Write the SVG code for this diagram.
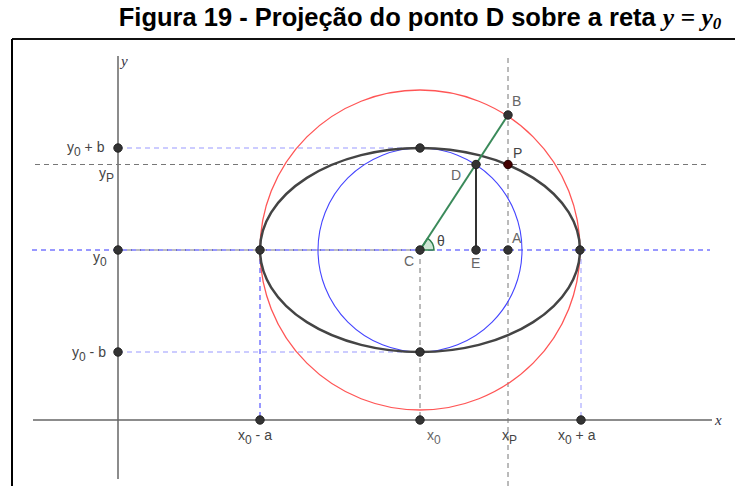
<svg xmlns="http://www.w3.org/2000/svg" width="735" height="486" viewBox="0 0 735 486">
<style>
.lbl{font-family:"Liberation Sans",Arial,sans-serif;font-size:14px;fill:#444}
.lt{fill:#666}
.sub{font-size:12px}
.ax{stroke:#666;stroke-width:1.5;fill:none}
.gd{stroke:#777;stroke-width:1;stroke-dasharray:5,4;fill:none}
.bd{stroke:#3333ff;stroke-width:1;stroke-dasharray:5,4;fill:none}
.lbd{stroke:#9999ff;stroke-width:1;stroke-dasharray:5,4;fill:none}
.pt{fill:#333;stroke:#222;stroke-width:1}
</style>
<rect width="735" height="486" fill="#fff"/>
<text x="420" y="26" text-anchor="middle" font-family="Liberation Sans,Arial,sans-serif" font-size="25.5" font-weight="bold" fill="#000">Figura 19 - Projeção do ponto D sobre a reta <tspan font-family="Liberation Serif,Times New Roman,serif" font-style="italic">y = y<tspan font-size="17" dy="3">0</tspan></tspan></text>
<line x1="12" y1="39" x2="735" y2="39" stroke="#111" stroke-width="2"/>
<line x1="12" y1="39" x2="12" y2="486" stroke="#000" stroke-width="2"/>
<g id="connectors">
<line class="ax" x1="118" y1="56" x2="118" y2="479"/>
<line class="ax" x1="33" y1="420" x2="712" y2="420"/>
<line class="gd" x1="35" y1="164.5" x2="707" y2="164.5"/>
<line class="gd" x1="508" y1="58" x2="508" y2="486"/>
<line class="gd" x1="420" y1="250" x2="420" y2="420"/>
<line class="bd" x1="32" y1="250" x2="710" y2="250"/>
<line x1="118" y1="250" x2="420" y2="250" stroke="#223" stroke-width="1" stroke-dasharray="5,4" opacity="0.6"/>
<line class="lbd" x1="118" y1="148" x2="420" y2="148"/>
<line class="lbd" x1="118" y1="352" x2="420" y2="352"/>
<line class="bd" x1="260" y1="250" x2="260" y2="420"/>
<line class="lbd" x1="581" y1="250" x2="581" y2="420"/>
<circle cx="420" cy="250" r="160" fill="none" stroke="#ff5555" stroke-width="1.3"/>
<circle cx="420" cy="250" r="102" fill="none" stroke="#4444ff" stroke-width="1.1"/>
<ellipse cx="420" cy="250" rx="160" ry="102" fill="none" stroke="#444" stroke-width="2.5"/>
<path d="M420,250 L427.6,238.3 A14,14 0 0 1 434,250 Z" fill="#cfe6d5" stroke="#2e7d4a" stroke-width="1.5"/>
<line x1="420" y1="250" x2="508" y2="115" stroke="#3a8a5a" stroke-width="2"/>
<line x1="476" y1="164.5" x2="476" y2="250" stroke="#333" stroke-width="2"/>
</g>
<g id="axis-labels">
<text x="121" y="66" font-family="Liberation Serif,serif" font-style="italic" font-size="15" fill="#334">y</text>
<text x="715" y="425" font-family="Liberation Serif,serif" font-style="italic" font-size="15" fill="#334">x</text>
</g>
<g id="y0b"><circle class="pt" cx="118" cy="148" r="4.2"/><text class="lbl" x="67" y="152">y<tspan class="sub" dy="4">0</tspan><tspan dy="-4"> + b</tspan></text></g>
<g id="yP"><text class="lbl" x="99" y="178">y<tspan class="sub" dy="4">P</tspan></text></g>
<g id="y0"><circle class="pt" cx="118" cy="250" r="4.2"/><text class="lbl" x="93" y="262">y<tspan class="sub" dy="4">0</tspan></text></g>
<g id="y0mb"><circle class="pt" cx="118" cy="352" r="4.2"/><text class="lbl" x="72" y="357">y<tspan class="sub" dy="4">0</tspan><tspan dy="-4"> - b</tspan></text></g>
<g id="x0ma"><circle class="pt" cx="260" cy="420" r="4.2"/><text class="lbl" x="238" y="440">x<tspan class="sub" dy="4">0</tspan><tspan dy="-4"> - a</tspan></text></g>
<g id="x0"><circle class="pt" cx="420" cy="420" r="4.2"/><text class="lbl lt" x="427" y="440">x<tspan class="sub" dy="4">0</tspan></text></g>
<g id="xP"><text class="lbl" x="502" y="440">x<tspan class="sub" dy="4">P</tspan></text></g>
<g id="x0pa"><circle class="pt" cx="581" cy="420" r="4.2"/><text class="lbl" x="558" y="440">x<tspan class="sub" dy="4">0</tspan><tspan dy="-4"> + a</tspan></text></g>
<g id="left-vertex"><circle class="pt" cx="260" cy="250" r="4.2"/></g>
<g id="right-vertex"><circle class="pt" cx="580" cy="250" r="4.2"/></g>
<g id="top-vertex"><circle class="pt" cx="420" cy="148" r="4.2"/></g>
<g id="bottom-vertex"><circle class="pt" cx="420" cy="352" r="4.2"/></g>
<g id="C"><circle class="pt" cx="420" cy="250" r="4.2"/><text class="lbl lt" x="404" y="266">C</text></g>
<g id="theta"><text class="lbl" x="437" y="246">θ</text></g>
<g id="E"><circle class="pt" cx="476" cy="250" r="4.2"/><text class="lbl lt" x="471" y="268">E</text></g>
<g id="A"><circle class="pt" cx="508" cy="250" r="4.2"/><text class="lbl lt" x="512" y="243">A</text></g>
<g id="D"><circle class="pt" cx="476" cy="164.5" r="4.2"/><text class="lbl lt" x="451" y="180">D</text></g>
<g id="B"><circle class="pt" cx="508" cy="115" r="4.2"/><text class="lbl lt" x="512" y="106">B</text></g>
<g id="P"><circle cx="508" cy="164.5" r="4.2" fill="#400" stroke="#200" stroke-width="1"/><text class="lbl" x="513" y="158" fill="#533">P</text></g>
</svg>
